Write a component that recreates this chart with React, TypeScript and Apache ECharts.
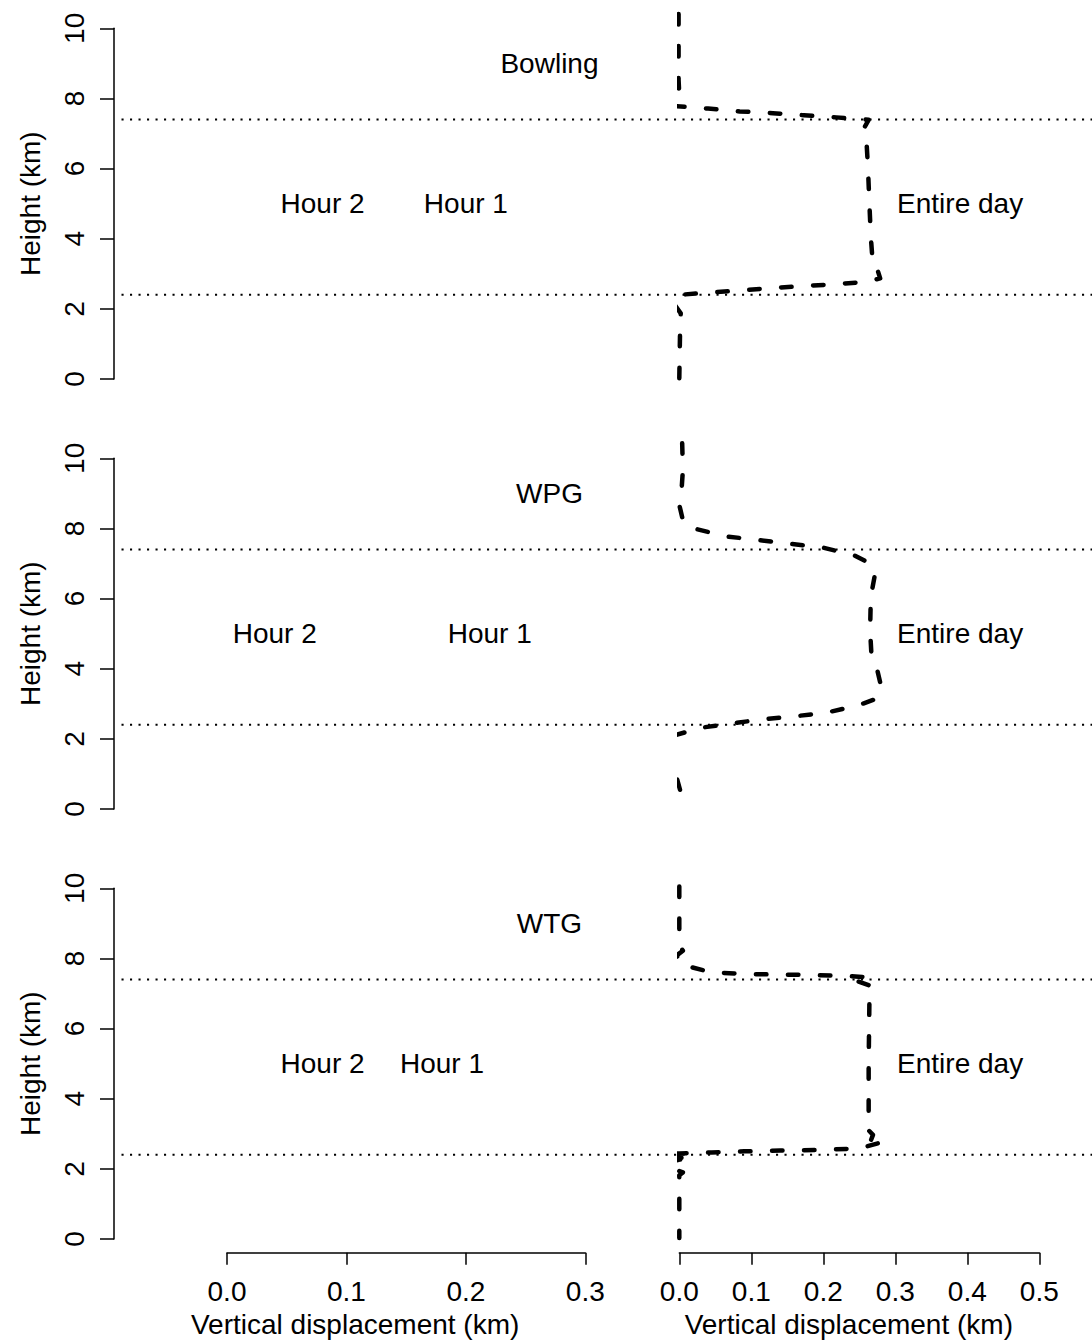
import React, { useEffect, useRef } from "react";
import * as echarts from "echarts";

// Station names, one panel each (top to bottom)
const stations = ["Bowling", "WPG", "WTG"];

// Heights (km) of the layer boundaries drawn as dotted lines
const layerBounds = [7.4, 2.4];

// Label anchors in the left (hourly) panel, in data units
const hour2X = [0.08, 0.04, 0.08];
const hour1X = [0.2, 0.22, 0.18];
const hourLabelY = 5;
const stationLabelX = 0.27;
const stationLabelY = 9;

// "Entire day" label anchor in the right panel
const entireDayX = 0.39;
const entireDayY = 5;

// Axis ranges
const heightRange = [0, 10];
const hourDispRange = [0, 0.3];
const dayDispRange = [0, 0.5];

// Entire-day vertical displacement profiles: [displacement (km), height (km)]
const bowlingProfile: [number, number][] = [
  [-0.001, 10.41], [-0.001, 8.53], [0.0, 8.1], [-0.011, 7.86], [-0.004, 7.78],
  [0.04, 7.71], [0.084, 7.63], [0.13, 7.58], [0.173, 7.52], [0.218, 7.46],
  [0.263, 7.39], [0.255, 7.1], [0.26, 6.77], [0.262, 6.05], [0.264, 5.01],
  [0.266, 4.06], [0.268, 3.49], [0.269, 3.2], [0.275, 3.13], [0.279, 2.87],
  [0.26, 2.77], [0.214, 2.7], [0.172, 2.65], [0.126, 2.59], [0.082, 2.52],
  [0.038, 2.46], [-0.006, 2.39], [-0.008, 2.16], [0.002, 1.87], [0.001, 1.3],
  [0.0, 0.02],
];

const wpgProfile: [number, number][] = [
  [0.004, 10.43], [0.005, 9.67], [0.003, 9.05], [0.0, 8.67], [0.006, 8.15],
  [0.024, 7.98], [0.066, 7.77], [0.11, 7.67], [0.154, 7.56], [0.198, 7.46],
  [0.242, 7.24], [0.265, 7.0], [0.272, 6.72], [0.266, 6.05], [0.265, 5.1],
  [0.267, 4.34], [0.275, 3.96], [0.281, 3.44], [0.272, 3.13], [0.249, 2.96],
  [0.205, 2.75], [0.163, 2.65], [0.117, 2.56], [0.073, 2.44], [0.031, 2.32],
  [0.01, 2.2], [-0.013, 2.06], [-0.024, 1.73], [-0.013, 1.25], [-0.004, 0.92],
  [0.003, 0.4], [0.0, 0.02],
];

const wtgProfile: [number, number][] = [
  [0.0, 10.05], [0.0, 8.4], [0.005, 8.22], [-0.004, 8.08], [0.002, 7.96],
  [-0.014, 7.9], [-0.02, 7.68], [0.0, 7.66], [0.017, 7.75], [0.045, 7.6],
  [0.089, 7.56], [0.134, 7.54], [0.178, 7.53], [0.222, 7.51], [0.266, 7.46],
  [0.249, 7.34], [0.267, 7.21], [0.264, 6.73], [0.263, 5.0], [0.263, 3.5],
  [0.26, 3.16], [0.269, 2.97], [0.265, 2.75], [0.283, 2.77], [0.25, 2.58],
  [0.19, 2.54], [0.14, 2.52], [0.09, 2.5], [0.045, 2.47], [0.0, 2.44],
  [-0.045, 2.42], [-0.026, 2.35], [0.017, 2.3], [-0.001, 2.26], [-0.013, 2.18],
  [0.003, 2.06], [-0.004, 1.97], [0.005, 1.9], [0.0, 1.82], [0.0, 0.03],
];

const profiles = [bowlingProfile, wpgProfile, wtgProfile];

const FONT = "'Liberation Sans', Arial, Helvetica, sans-serif";
const FS = 28;
const INK = "#000";

// Panel geometry (pixels)
const panelTops = [28.3, 458.3, 888.3];
const panelHeight = 350.7;

function buildOption() {
  const grid: any[] = [];
  const xAxis: any[] = [];
  const yAxis: any[] = [];
  const series: any[] = [];

  const textStyle = { fontFamily: FONT, fontSize: FS, color: INK };

  // titlePad shifts the axis title left of the axis centre (plot region is wider than the axis)
  const bottomAxis = (gridIndex: number, range: number[], show: boolean, titlePad: number) => ({
    gridIndex,
    type: "value",
    min: range[0],
    max: range[1],
    interval: 0.1,
    show,
    position: "bottom",
    offset: 13.7,
    axisLine: { show: true, onZero: false, lineStyle: { color: INK, width: 1.5 } },
    axisTick: { show: true, length: 12, lineStyle: { color: INK, width: 1.5 } },
    axisLabel: {
      show: true,
      margin: 25,
      ...textStyle,
      formatter: (v: number) => v.toFixed(1),
    },
    splitLine: { show: false },
    name: "Vertical displacement (km)",
    nameLocation: "middle",
    nameGap: 58,
    nameTextStyle: { ...textStyle, padding: [0, titlePad, 0, 0] },
  });

  panelTops.forEach((top, p) => {
    const gA = 3 * p;
    const gB = 3 * p + 1;
    const gC = 3 * p + 2;
    const isLast = p === panelTops.length - 1;

    // full-width frame carrying the height axis and the dotted layer lines
    grid.push({ left: 121.5, right: 0, top, height: panelHeight, containLabel: false, outerBoundsMode: "none" });
    // hourly panel
    grid.push({ left: 227, width: 358.3, top, height: panelHeight, containLabel: false, outerBoundsMode: "none" });
    // entire-day panel
    grid.push({ left: 679.3, width: 360, top, height: panelHeight, containLabel: false, outerBoundsMode: "none" });

    xAxis.push({ gridIndex: gA, type: "value", min: 0, max: 1, show: false });
    xAxis.push(bottomAxis(gB, hourDispRange, isLast, 102));
    xAxis.push(bottomAxis(gC, dayDispRange, isLast, 21));

    yAxis.push({
      gridIndex: gA,
      type: "value",
      min: heightRange[0],
      max: heightRange[1],
      interval: 2,
      position: "left",
      offset: 7.5,
      axisLine: { show: true, onZero: false, lineStyle: { color: INK, width: 1.5 } },
      axisTick: { show: true, length: 14, lineStyle: { color: INK, width: 1.5 } },
      axisLabel: { show: true, rotate: 90, margin: 26, ...textStyle },
      splitLine: { show: false },
      name: "Height (km)",
      nameLocation: "middle",
      nameRotate: 90,
      nameGap: 70,
      nameTextStyle: textStyle,
    });
    yAxis.push({ gridIndex: gB, type: "value", min: heightRange[0], max: heightRange[1], show: false });
    yAxis.push({ gridIndex: gC, type: "value", min: heightRange[0], max: heightRange[1], show: false });

    layerBounds.forEach((h) => {
      series.push({
        type: "line",
        xAxisIndex: gA,
        yAxisIndex: gA,
        data: [
          [0, h],
          [1, h],
        ],
        symbol: "none",
        silent: true,
        lineStyle: { color: INK, width: 2, type: [2.1, 6.4], cap: "butt" },
      });
    });

    series.push({
      type: "line",
      xAxisIndex: gC,
      yAxisIndex: gC,
      data: profiles[p],
      symbol: "none",
      clip: false,
      silent: true,
      lineStyle: { color: INK, width: 4.5, type: [10.5, 21.5], cap: "round", join: "round" },
    });

    const labelSeries = (xi: number, items: { value: number[]; name: string }[]) => ({
      type: "scatter",
      xAxisIndex: xi,
      yAxisIndex: xi,
      data: items,
      symbolSize: 0,
      silent: true,
      itemStyle: { color: INK },
      label: {
        show: true,
        position: "inside",
        formatter: (d: any) => d.name,
        textBorderWidth: 0,
        textBorderColor: "transparent",
        opacity: 1,
        ...textStyle,
      },
    });

    series.push(
      labelSeries(gB, [
        { value: [stationLabelX, stationLabelY], name: stations[p] },
        { value: [hour2X[p], hourLabelY], name: "Hour 2" },
        { value: [hour1X[p], hourLabelY], name: "Hour 1" },
      ])
    );
    series.push(labelSeries(gC, [{ value: [entireDayX, entireDayY], name: "Entire day" }]));
  });

  return {
    animation: false,
    backgroundColor: "#fff",
    grid,
    xAxis,
    yAxis,
    series,
  };
}

export default function App() {
  const ref = useRef<HTMLDivElement>(null);

  useEffect(() => {
    document.body.style.margin = "0";
    if (!ref.current) return;
    const chart = echarts.init(ref.current, undefined, { renderer: "svg" });
    chart.setOption(buildOption());
    return () => chart.dispose();
  }, []);

  return <div ref={ref} style={{ width: 1092, height: 1341 }} />;
}
